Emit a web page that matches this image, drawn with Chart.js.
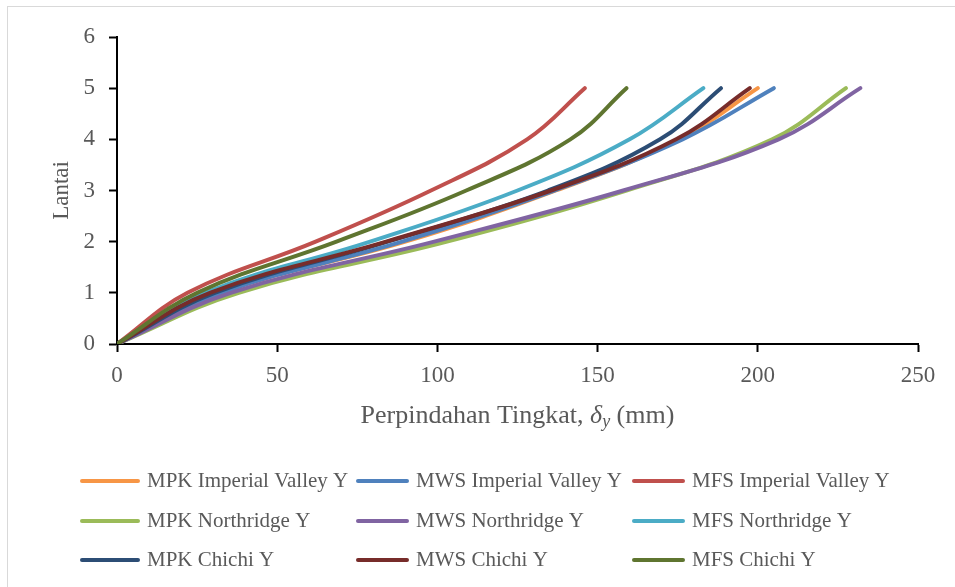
<!DOCTYPE html>
<html>
<head>
<meta charset="utf-8">
<script src="https://cdn.jsdelivr.net/npm/chart.js@4.4.1/dist/chart.umd.min.js"></script>
<style>
  html, body { margin: 0; padding: 0; background: #fff; }
  #wrap { width: 955px; height: 587px; position: relative; }
</style>
</head>
<body>
<div id="wrap"><canvas id="driftChart"></canvas></div>
<script>
// story levels (Lantai) and lateral displacement per level, mm
const floors = [0, 1, 2, 3, 4, 5];

const mpkImperial = [0, 32, 90, 137, 175.5, 200];
const mwsImperial = [0, 32.5, 89, 136.5, 176.5, 205];
const mfsImperial = [0, 22, 62, 98, 128, 146];
const mpkNorthridge = [0, 38, 103, 159, 204.5, 227.5];
const mwsNorthridge = [0, 35.5, 99, 158, 206.5, 232];
const mfsNorthridge = [0, 27.5, 79, 125, 160, 183];
const mpkChichi = [0, 30.5, 84.5, 134.5, 169.5, 188.5];
const mwsChichi = [0, 29, 84, 135.5, 174.5, 197.5];
const mfsChichi = [0, 25, 68.5, 109, 141.5, 159];

const seriesNames = [
    'MPK Imperial Valley Y', 'MWS Imperial Valley Y', 'MFS Imperial Valley Y',
    'MPK Northridge Y', 'MWS Northridge Y', 'MFS Northridge Y',
    'MPK Chichi Y', 'MWS Chichi Y', 'MFS Chichi Y'
];
const seriesValues = [
    mpkImperial, mwsImperial, mfsImperial,
    mpkNorthridge, mwsNorthridge, mfsNorthridge,
    mpkChichi, mwsChichi, mfsChichi
];
const seriesColors = [
    '#F79646', '#4F81BD', '#C0504D',
    '#9BBB59', '#8064A2', '#4BACC6',
    '#2C4D75', '#772C2A', '#5F7530'
];

const xTicks = [0, 50, 100, 150, 200, 250];
const yTicks = [0, 1, 2, 3, 4, 5, 6];

const serif = "'Liberation Serif', 'Times New Roman', serif";
const textGray = '#595959';

// outer frame, x-axis title with italic/subscript delta, and a 3-column legend
const decorPlugin = {
    id: 'decor',
    afterDraw(chart) {
        const ctx = chart.ctx;
        const area = chart.chartArea;
        ctx.save();

        ctx.strokeStyle = '#D9D9D9';
        ctx.lineWidth = 1;
        ctx.strokeRect(7.5, 6.5, chart.width, chart.height);

        // axis title: Perpindahan Tingkat, δy (mm)
        const size = 26;
        const parts = [
            { t: 'Perpindahan Tingkat, ', font: `${size}px ${serif}`, dy: 0 },
            { t: 'δ', font: `italic ${size}px ${serif}`, dy: 0 },
            { t: 'y', font: `italic ${Math.round(size * 0.68)}px ${serif}`, dy: 6 },
            { t: ' (mm)', font: `${size}px ${serif}`, dy: 0 }
        ];
        let total = 0;
        parts.forEach(p => { ctx.font = p.font; p.w = ctx.measureText(p.t).width; total += p.w; });
        let x = (area.left + area.right) / 2 - total / 2;
        const ty = 416;
        ctx.fillStyle = textGray;
        ctx.textBaseline = 'middle';
        ctx.textAlign = 'left';
        parts.forEach(p => {
            ctx.font = p.font;
            ctx.fillText(p.t, x, ty + p.dy);
            x += p.w;
        });

        // legend grid
        const lineX = [82, 358, 634];
        const textX = [147, 416, 692];
        const rowY = [481, 521, 560];
        ctx.font = `21px ${serif}`;
        ctx.lineCap = 'round';
        chart.data.datasets.forEach((ds, i) => {
            const col = i % 3;
            const cy = rowY[Math.floor(i / 3)];
            ctx.strokeStyle = ds.borderColor;
            ctx.lineWidth = 4;
            ctx.beginPath();
            ctx.moveTo(lineX[col], cy);
            ctx.lineTo(textX[col] - 9, cy);
            ctx.stroke();
            ctx.fillStyle = textGray;
            ctx.fillText(ds.label, textX[col], cy);
        });
        ctx.restore();
    }
};

const datasets = seriesNames.map((name, i) => ({
    label: name,
    data: floors.map((f, k) => ({ x: seriesValues[i][k], y: f })),
    borderColor: seriesColors[i],
    backgroundColor: seriesColors[i],
    borderWidth: 4,
    borderCapStyle: 'round',
    borderJoinStyle: 'round',
    pointRadius: 0,
    tension: 0.4,
    fill: false,
    order: seriesNames.length - i
}));

const ctx = document.getElementById('driftChart').getContext('2d');
new Chart(ctx, {
    type: 'line',
    data: { datasets },
    plugins: [decorPlugin],
    options: {
        responsive: true,
        maintainAspectRatio: false,
        animation: false,
        layout: { padding: { left: 0, right: 37, top: 37, bottom: 143 } },
        scales: {
            x: {
                type: 'linear',
                min: xTicks[0],
                max: xTicks[xTicks.length - 1],
                afterFit: scale => { scale.height = 100; },
                afterBuildTicks: scale => { scale.ticks = xTicks.map(v => ({ value: v })); },
                border: { display: true, color: '#000', width: 2 },
                grid: { drawOnChartArea: false, drawTicks: true, tickLength: 8, tickColor: '#000', tickWidth: 2 },
                ticks: { color: textGray, font: { family: serif, size: 23 }, padding: 10, maxRotation: 0 },
                title: { display: false }
            },
            y: {
                type: 'linear',
                min: yTicks[0],
                max: yTicks[yTicks.length - 1],
                afterFit: scale => { scale.width = 117; },
                afterBuildTicks: scale => { scale.ticks = yTicks.map(v => ({ value: v })); },
                border: { display: true, color: '#000', width: 2 },
                grid: { drawOnChartArea: false, drawTicks: true, tickLength: 8, tickColor: '#000', tickWidth: 2 },
                ticks: { color: textGray, font: { family: serif, size: 23 }, padding: 14 },
                title: {
                    display: true,
                    text: 'Lantai',
                    color: textGray,
                    font: { family: serif, size: 23 },
                    padding: { top: 48, bottom: 0 }
                }
            }
        },
        plugins: {
            legend: { display: false },
            tooltip: { enabled: false }
        }
    }
});
</script>
</body>
</html>
